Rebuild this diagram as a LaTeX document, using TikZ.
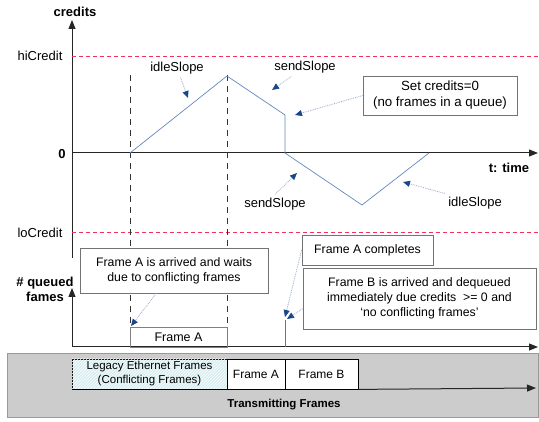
\documentclass[tikz,border=0pt]{standalone}
\usepackage{fontspec}
\setmainfont{Liberation Sans}
\usetikzlibrary{arrows.meta,patterns}

\begin{document}
\begin{tikzpicture}[x=1pt, y=-1pt,
    >={Triangle[length=9pt,width=7pt]},
    axis/.style={line width=1pt, draw=black!85},
    limit/.style={draw=limitred, dash pattern=on 4pt off 3pt, line width=0.8pt},
    guide/.style={draw=black!80, dash pattern=on 6pt off 5pt, line width=0.8pt},
    note/.style={densely dotted, draw=notegray, line width=0.8pt,
        -{Triangle[length=7pt,width=6pt,color=noteblue]}},
    lbl/.style={font=\fontsize{13}{15}\selectfont},
    blbl/.style={font=\fontsize{13}{15}\selectfont\bfseries},
    callout/.style={draw=black!55, fill=white, line width=0.8pt, align=center,
        inner sep=0pt, font=\fontsize{12.3}{15}\selectfont},
    slot/.style={draw=black, fill=white, line width=0.8pt, inner sep=0pt,
        minimum height=30, align=center, font=\fontsize{12}{14}\selectfont}
]
    % Define colors
    \definecolor{limitred}{RGB}{240,50,90}
    \definecolor{noteblue}{RGB}{25,70,140}
    \definecolor{notegray}{RGB}{150,170,205}
    \definecolor{curveblue}{RGB}{100,135,190}
    \definecolor{legacycyan}{RGB}{214,238,240}

    \useasboundingbox (0,0) rectangle (539,422);

    % Credits plot
    \draw[axis, ->] (72,258) -- (72,20);
    \draw[axis, ->] (72,153) -- (538,153);
    \draw[limit] (72,56) -- (539,56);
    \draw[limit] (72,232) -- (539,232);
    \node[blbl] (creditsLbl) at (75,12) {credits};
    \node[lbl] (hiLbl) at (40,56) {hiCredit};
    \node[lbl] (loLbl) at (40,233) {loCredit};
    \node[blbl] (zeroLbl) at (62,154) {0};
    \node[blbl] (timeLbl) at (509,168) {t: time};

    % Frame boundaries
    \draw[guide] (130,75) -- (130,327);
    \draw[guide] (227,75) -- (227,327);

    % Credit curve
    \draw[curveblue, line width=0.7pt] (130,153) -- (227,76) -- (285,115)
        -- (285,153) -- (362,205) -- (429,153);

    % Slope labels
    \node[lbl] (idleUp) at (177,68) {idleSlope};
    \node[lbl] (sendUp) at (305,67) {sendSlope};
    \node[lbl] (sendLow) at (275,204) {sendSlope};
    \node[lbl] (idleLow) at (475,203) {idleSlope};
    \coordinate (idleUpTip) at (188,98);
    \coordinate (sendUpTip) at (272,90);
    \coordinate (sendLowTip) at (297,173);
    \coordinate (idleLowTip) at (403,182);
    \draw[note] (idleUp) -- (idleUpTip);
    \draw[note] (sendUp) -- (sendUpTip);
    \draw[note] (sendLow.north) -- (sendLowTip);
    \draw[note] (idleLow.north west) -- (idleLowTip);

    \node[callout, minimum width=154, minimum height=39,
        font=\fontsize{13.3}{16}\selectfont] (setBox) at (440,95.5)
        {Set credits=0\\(no frames in a queue)};
    \coordinate (setTip) at (295,115);
    \draw[note] (setBox.west) -- (setTip);

    % Queue plot
    \draw[axis, ->] (72,347) -- (72,288);
    \draw[axis, ->] (72,347) -- (538,347);
    \node[blbl, align=center] (queuedLbl) at (45,289.5) {\# queued\\fames};
    \node[draw=black!50, line width=0.8pt, inner sep=0pt, minimum width=97,
        minimum height=20, font=\fontsize{12.5}{14}\selectfont] (queueA) at (178.5,337) {Frame A};
    \draw[black!55, line width=0.8pt] (285,347) -- (285,320);

    \node[callout, minimum width=188, minimum height=45] (waitBox) at (174,270.5)
        {Frame A is arrived and waits\\due to conflicting frames};
    \node[callout, minimum width=131, minimum height=30] (doneBox) at (367.5,250)
        {Frame A completes};
    \node[callout, minimum width=233, minimum height=61] (frameBBox) at (419.5,298.5)
        {Frame B is arrived and dequeued\\immediately due credits \ >= 0 and\\`no conflicting frames'};
    \coordinate (waitTip) at (131,326);
    \coordinate (doneTip) at (285,317);
    \coordinate (frameBTip) at (287,319);
    \draw[note] (waitBox) -- (waitTip);
    \draw[note] (doneBox.west) -- (doneTip);
    \draw[note] (frameBBox.185) -- (frameBTip);

    % Transmitting frames
    \draw[draw=black!40, fill=black!20] (7,353) rectangle (538,417);
    \node[slot, minimum width=155, fill=legacycyan,
        postaction={pattern=north east lines, pattern color=white},
        font=\fontsize{11.5}{14}\selectfont] (legacy) at (149.5,374)
        {Legacy Ethernet Frames\\(Conflicting Frames)};
    \node[slot, minimum width=58] (txA) at (256,374) {Frame A};
    \node[slot, minimum width=73] (txB) at (321.5,374) {Frame B};
    \coordinate (txEnd) at (536,388);
    \draw[axis, ->] (txB.south east) -- (txEnd);
    \node[font=\fontsize{11.5}{14}\selectfont\bfseries] (txLbl) at (284,405) {Transmitting Frames};
\end{tikzpicture}
\end{document}
